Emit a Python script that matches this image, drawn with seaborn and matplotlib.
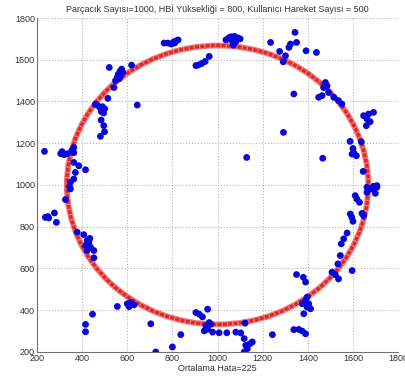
import matplotlib
matplotlib.use("Agg")
import matplotlib.pyplot as plt
from matplotlib.patches import Circle
import numpy as np
import pandas as pd
import seaborn as sns

# estimated particle positions
est_x = [233, 311, 320, 335, 355, 363, 305, 363, 363, 385, 415, 370, 363, 348, 345,
         459, 470, 480, 490, 500, 485, 495, 484, 496, 499, 481, 514, 541, 520,
         548, 555, 560, 568, 575, 580, 565, 570, 619, 644,
         763, 780, 795, 805, 815, 825, 810, 904, 915, 930, 945, 963,
         1037, 1050, 1060, 1075, 1090, 1100, 1065, 1080, 1070,
         1235, 1275, 1291, 1301, 1316, 1323, 1343, 1350, 1392, 1438, 1338,
         1478, 1485, 1470, 1492, 1448, 1463, 1515, 1536, 1551,
         1647, 1669, 1691, 1662, 1676, 1659, 1292, 1129,
         1587, 1637, 1600, 1604, 1615, 1596, 1466, 1645, 1662, 1691, 1706,
         348, 326, 237, 248, 252, 277, 286, 378,
         407, 422, 430, 415, 437, 452, 452, 422, 434,
         600, 615, 630, 608, 556, 446, 415, 415, 704, 726, 800, 837,
         904, 919, 933, 956, 948, 956, 970, 941, 963,
         978, 1007, 1041, 1081, 1103, 1122, 1118, 1125, 1132, 1144, 1154, 1118, 1243,
         1338, 1360, 1375, 1390, 1375, 1390, 1397, 1412, 1382, 1397, 1404,
         1350, 1380, 1390, 1507, 1522, 1536, 1533, 1544, 1548, 1559, 1574, 1596,
         1588, 1595, 1600, 1640, 1647, 1610, 1617, 1629, 1662, 1684, 1706, 1699]
est_y = [1161, 1160, 1145, 1150, 1165, 1155, 1150, 1180, 1108, 1092, 1073, 1060, 1029, 1013, 989,
         1388, 1380, 1370, 1375, 1365, 1352, 1345, 1311, 1284, 1255, 1233, 1415, 1467, 1563,
         1500, 1515, 1530, 1545, 1555, 1540, 1510, 1525, 1574, 1383,
         1680, 1680, 1675, 1685, 1690, 1695, 1680, 1572, 1575, 1582, 1592, 1616,
         1695, 1705, 1710, 1712, 1705, 1700, 1690, 1685, 1670,
         1683, 1640, 1590, 1619, 1659, 1675, 1731, 1683, 1643, 1635, 1436,
         1491, 1475, 1467, 1443, 1420, 1428, 1420, 1404, 1388,
         1332, 1340, 1348, 1316, 1303, 1284, 1252, 1132,
         1209, 1207, 1175, 1153, 1140, 1148, 1128, 1065, 989, 994, 997,
         981, 930, 845, 849, 842, 866, 821, 774,
         762, 734, 726, 710, 702, 686, 651, 686, 744,
         431, 437, 426, 417, 418, 381, 332, 297, 335, 200, 224, 283,
         389, 381, 368, 405, 325, 309, 333, 301, 341,
         295, 292, 292, 295, 291, 338, 264, 232, 216, 240, 248, 200, 283,
         307, 308, 300, 287, 431, 447, 463, 407, 383, 415, 431,
         571, 558, 535, 582, 570, 550, 622, 662, 718, 742, 770, 590,
         861, 845, 826, 864, 853, 949, 933, 917, 965, 981, 989, 960]

# user path (circle)
path_center = (1000, 1000)
path_radius = 668

x_ticks = [200, 400, 600, 800, 1000, 1200, 1400, 1600, 1800]
y_ticks = [200, 400, 600, 800, 1000, 1200, 1400, 1600, 1800]

sns.set_style("white")
plt.rcParams["font.family"] = ["Liberation Sans", "DejaVu Sans"]

fig = plt.figure(figsize=(4.05, 3.83), dpi=100)
ax = fig.add_axes([0.0914, 0.081, 0.8916, 0.872])

# soft outer band + darker core, to mimic the dense '*' markers
ax.add_patch(Circle(path_center, path_radius, fill=False, edgecolor="#f07a7a",
                    linewidth=4.2, zorder=2))
ax.add_patch(Circle(path_center, path_radius, fill=False, edgecolor="#e02626",
                    linewidth=2.4, linestyle=(0, (1.2, 0.4)), zorder=2))

df = pd.DataFrame({"x": est_x, "y": est_y})
sns.scatterplot(data=df, x="x", y="y", color="#0808d8", s=24, edgecolor="none",
                ax=ax, zorder=3)

ax.set_xlim(200, 1800)
ax.set_ylim(200, 1800)
ax.set_xticks(x_ticks)
ax.set_yticks(y_ticks)
ax.grid(True, linestyle=(0, (1, 2)), color="#a8a8a8", linewidth=0.7)
ax.tick_params(direction="in", length=2.5, labelsize=6.5, colors="#333333", pad=1.5)
for s in ["top", "right"]:
    ax.spines[s].set_visible(False)
for s in ["left", "bottom"]:
    ax.spines[s].set_color("#707070")
    ax.spines[s].set_linewidth(0.8)

ax.set_title("Parçacık Sayısı=1000, HBİ Yüksekliği = 800, Kullanıcı Hareket Sayısı = 500",
             fontsize=6.5, color="#333333", pad=4)
ax.set_xlabel("Ortalama Hata=225", fontsize=6.5, color="#333333", labelpad=1)
ax.set_ylabel("")

fig.savefig("out.png", dpi=100)
